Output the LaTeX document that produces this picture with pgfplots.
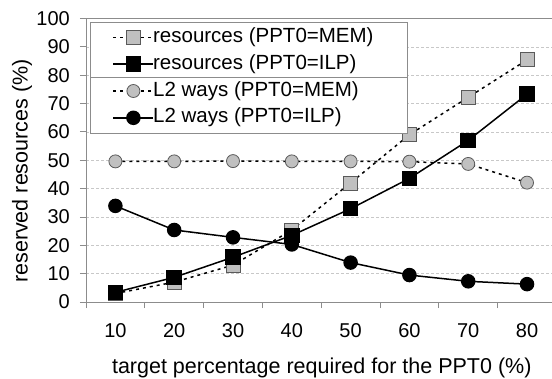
\documentclass[border=0pt]{standalone}
\usepackage{fontspec}
\setmainfont{Liberation Sans}
\usepackage{pgfplots}
\pgfplotsset{compat=1.18}

\definecolor{axisgray}{HTML}{8C8C8C}
\definecolor{gridgray}{HTML}{C8C8C8}
\definecolor{markfill}{HTML}{C0C0C0}
\definecolor{markedge}{HTML}{5A5A5A}

\begin{document}
\begin{tikzpicture}[font=\fontsize{20bp}{24bp}\selectfont]
\begin{axis}[
  at={(86bp,77bp)}, anchor=south west,
  scale only axis, width=466bp, height=283.5bp,
  xmin=0.5, xmax=8.425, ymin=0, ymax=100,
  axis lines*=left,
  axis line style={axisgray, line width=0.8bp},
  tick align=outside, major tick length=6bp,
  tick style={axisgray, line width=0.8bp},
  xtick={0.5,1.5,...,7.5}, xticklabels={},
  extra x ticks={1,2,3,4,5,6,7,8},
  extra x tick labels={10,20,30,40,50,60,70,80},
  extra x tick style={major tick length=0pt, tick style={draw=none}},
  ytick={0,10,...,100},
  ymajorgrids,
  grid style={gridgray, dash pattern=on 3bp off 2bp, line width=0.6bp},
  /pgf/number format/assume math mode=true,
  yticklabel style={inner sep=0pt, anchor=east, xshift=-10bp},
  xticklabel style={inner sep=0pt, anchor=north, yshift=-21bp},
  xlabel={target percentage required for the PPT0 (\%)},
  ylabel={reserved resources (\%)},
  label style={font=\fontsize{21.5bp}{25bp}\selectfont},
  xlabel style={at={(axis description cs:0.506,-0.233)}, anchor=center},
  ylabel style={at={(axis description cs:-0.137,0.462)}, anchor=center},
  legend cell align=left,
  legend style={name=leg, at={(rel axis cs:0.0086,0.9890)}, anchor=north west,
    draw=axisgray, line width=0.8bp, fill=white, row sep=0pt,
    column sep=-1bp, font=\fontsize{20.5bp}{24bp}\selectfont,
    nodes={inner xsep=0bp, inner ysep=2.4bp, text height=16bp, text depth=6bp}},
  legend image code/.code={%
    \path[draw=none, fill=none] (-20bp,-1bp) rectangle (40bp,1bp);
    \draw[mark repeat=2, mark phase=2] plot coordinates {(0bp,0bp) (20bp,0bp) (40bp,0bp)};},
]
% reserved resources, PPT0 = MEM
\addplot[black, line width=1.5bp, dash pattern=on 3bp off 4bp,
  mark=square*, mark size=7bp,
  mark options={solid, fill=markfill, draw=markedge, line width=0.8bp}]
  coordinates {(1,3) (2,7) (3,13) (4,25.4) (5,42) (6,59) (7,72.2) (8,85.4)};
\addlegendentry{\makebox[251bp][l]{resources (PPT0=MEM)}}
% reserved resources, PPT0 = ILP
\addplot[black, line width=1.5bp, mark=square*, mark size=7bp,
  mark options={solid, fill=black, draw=black}]
  coordinates {(1,3.4) (2,8.7) (3,15.8) (4,23.5) (5,32.9) (6,43.6) (7,57) (8,73.3)};
\addlegendentry{resources (PPT0=ILP)}
% L2 ways, PPT0 = MEM
\addplot[black, line width=1.5bp, dash pattern=on 3bp off 4bp,
  mark=*, mark size=6.5bp,
  mark options={solid, fill=markfill, draw=markedge, line width=0.8bp}]
  coordinates {(1,49.6) (2,49.6) (3,49.7) (4,49.6) (5,49.6) (6,49.5) (7,48.7) (8,42.1)};
\addlegendentry{L2 ways (PPT0=MEM)}
% L2 ways, PPT0 = ILP
\addplot[black, line width=1.5bp, mark=*, mark size=6.5bp,
  mark options={solid, fill=black, draw=black}]
  coordinates {(1,33.9) (2,25.4) (3,22.8) (4,20.3) (5,13.9) (6,9.5) (7,7.3) (8,6.3)};
\addlegendentry{L2 ways (PPT0=ILP)}
% top border of the plot area
\draw[axisgray, line width=0.8bp] (rel axis cs:0,1) -- (rel axis cs:1,1);
\end{axis}
% separator between the two legend groups
\draw[axisgray, line width=0.8bp] (leg.west) -- (leg.east);
\pgfresetboundingbox
\path[use as bounding box] (0,0) rectangle (552bp,379bp);
\end{tikzpicture}
\end{document}
